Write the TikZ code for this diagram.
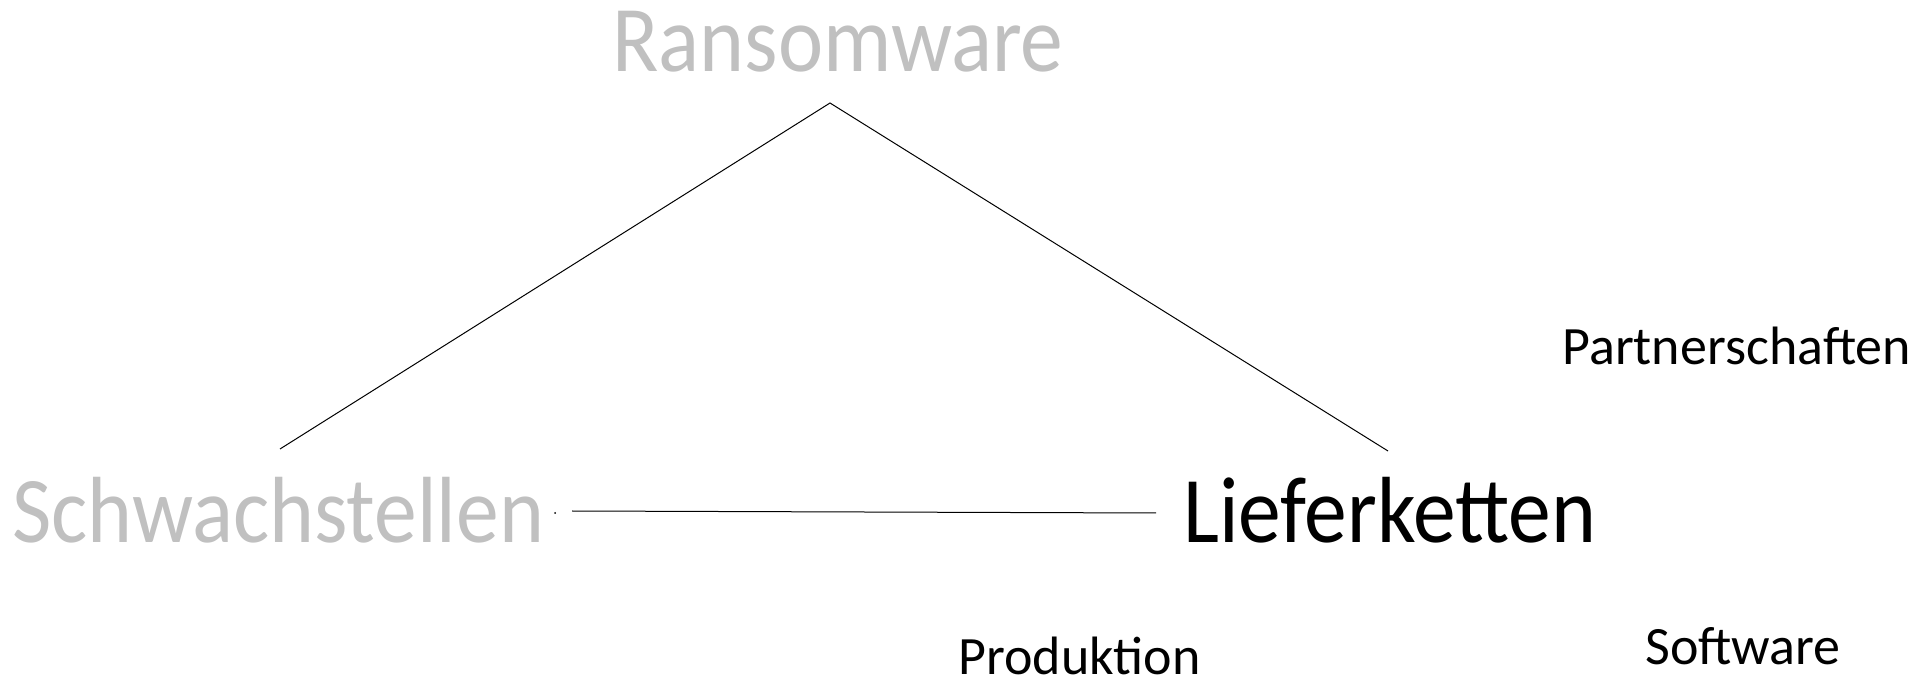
\documentclass[tikz,border=0pt]{standalone}
\usepackage{fontspec}
\setmainfont{Carlito}
\newfontfamily\topicfont[FakeStretch=0.91]{Carlito}
\definecolor{faded}{HTML}{C0C0C0}
\tikzset{
  topic/.style={anchor=base west, inner sep=0pt, font=\topicfont\fontsize{47}{50}\selectfont},
  subtopic/.style={anchor=base west, inner sep=0pt, font=\fontsize{27}{30}\selectfont},
  link/.style={line width=0.5pt, black},
}
\begin{document}
\begin{tikzpicture}[x=0.5pt, y=-0.5pt]
	\useasboundingbox (0,0) rectangle (1908,678);

	% main topics
	\node[topic, text=faded] (ransom)  at (612,72)  {Ransomware};
	\node[topic, text=faded] (schwach) at (12,543)  {Schwachstellen};
	\node[topic]             (liefer)  at (1183,543) {Lieferketten};

	% sub topics
	\node[subtopic] (partner) at (1562,365) {Partnerschaften};
	\node[subtopic] (prod)    at (958,675)  {Produktion};
	\node[subtopic] (soft)    at (1645,665) {Software};

	% line ends
	\coordinate (apex)  at (830,103);
	\coordinate (left)  at (280,449);
	\coordinate (right) at (1388,451);
	\coordinate (hfrom) at (572,511);
	\coordinate (hto)   at (1156,513);

	\draw[link] (left) -- (apex) -- (right);
	\draw[link] (hfrom) -- (hto);
	\fill (555,513) circle (1);
\end{tikzpicture}
\end{document}
